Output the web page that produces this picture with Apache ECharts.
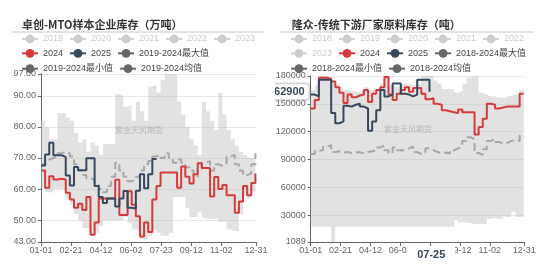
<!DOCTYPE html>
<html><head><meta charset="utf-8">
<script src="https://cdn.jsdelivr.net/npm/echarts@6/dist/echarts.min.js"></script>
<style>html,body{margin:0;padding:0;background:#fff;width:550px;height:273px;overflow:hidden}</style>
</head><body>
<div id="c2" style="position:absolute;left:262px;top:0;width:288px;height:273px;"></div>
<div id="c1" style="position:absolute;left:0;top:0;width:275px;height:273px;background:#fff;z-index:2"></div>
<script>
// ---------- data ----------
const monthDays = [31,29,31,30,31,30,31,31,30,31,30,31];
const categories = [];
monthDays.forEach((n,m)=>{for(let d=1;d<=n;d++){categories.push(String(m+1).padStart(2,'0')+'-'+String(d).padStart(2,'0'));}});
const labelIdx = [0,51,102,153,204,255,306,365]; // 01-01 02-21 04-12 06-02 07-23 09-12 11-02 12-31
const weekDates = []; for (let w=0; w<53; w++) weekDates.push(categories[w*7]);

// Left: 卓创-MTO (万吨), weekly
const L_2024 = [66,60.4,64.1,63.1,63.3,63.1,58.8,56.7,54,55.3,53.3,57.5,45.3,49.3,57,57,57,57,63,51.7,51.7,59.3,55,51.3,44.8,49.3,46.2,56.7,61,65.3,65.3,65.3,65.3,60.4,67.3,64,61.8,64.8,68.3,66.8,66.8,57.6,63.9,60,61.3,58,58,52.4,56,61,58,62,65];
const L_2025 = [67.6,71.1,74.9,70.9,70.9,70.3,64.4,61.2,67.1,66.1,66.1,69.9,69.9,61,57.5,55.5,57,57,54.4,57,59.4,54,53.8,59.5,64.8,60.3,64.8,69.7,69.7];
const L_max = [82,80,76,76,84.5,84.5,83,82,78,75,76,72,75,74,71,74.5,74.5,74.5,90.5,90,86.5,87,82,88,85,82,93,93.5,91,95,97,97,97,88,84,80,76,74,71,88,85,82,79,91,84,79,76,74,72,71,70,70,83];
const L_min = [60,59,59,60,60,60,57,55,52,50,47.5,47.5,45,46,48,50,50,50,50,50,51,49,47,47,44,44,45,47,46,45,45,46,57.5,57.5,57.5,54,51,51,52.5,51,50.5,50.5,50.5,49.5,49.5,47,47,46.5,52,58,57,59,60];
const L_avg = [68,69.5,70,70.5,71.5,72,71.5,70.5,68,66,64.5,63.5,63,61.5,60,59,61,64,68.5,66,64,62.5,63,64,66,68,69,70.5,71,70,71.5,70,68.5,69.5,68.5,67,66,64,66,68.5,69,66,68,67.5,68,70.5,71,68,66,64.5,65,68,71.5];

// Right: 隆众-传统下游 (吨), weekly
const R_2024 = [145000,154000,178000,178000,177000,174000,168000,162000,151000,160000,157000,159000,160000,165000,152000,161000,165000,168000,179000,160000,154000,161000,165000,168000,163000,167000,167000,161000,155000,156000,150000,149000,143000,142000,141000,140000,144000,141000,141000,141000,117000,125000,134000,150000,149000,145000,146000,147000,147000,147000,147000,161000,161000];
const R_2025 = [160000,158000,176000,176000,176000,140000,129000,131000,148000,147000,149000,150000,147000,145000,121000,131000,143000,165000,158000,160000,172000,172000,161000,160000,158000,160000,176000,176000,176000,163000];
const R_max = [165000,170000,180000,180000,179000,176000,172000,168000,165000,164000,163000,163000,165000,168000,165000,166000,168000,172000,180000,170000,168000,170000,172000,172000,170000,172000,172000,180000,180000,180000,175000,172000,166000,166000,166000,162000,164000,172000,178000,180000,180000,162000,160000,158000,158000,157000,156000,158000,159000,160000,160000,165000,163000];
const R_min = [17600,17600,17600,17600,17600,1089,17600,17600,17600,17600,17600,17600,17600,17600,17600,17600,17600,17600,17600,17600,17600,17600,17600,17600,17600,17600,17600,17600,17600,17600,17600,17600,17600,17600,17600,24800,21200,23000,21500,21500,20500,20500,20500,26500,26000,27000,26000,29500,28000,34000,28000,28000,27500];
const R_avg = [95900,99500,100000,104000,105500,98000,99000,97500,98000,97000,97500,98000,96500,98000,99000,100000,103000,105000,100000,97000,103000,100000,100000,102000,104000,98000,96000,97500,102000,100000,98000,97000,97500,96500,100000,102000,104000,110000,114000,112000,97000,95000,101000,110000,112000,109000,107000,108000,110000,111000,110000,116000,115000];
const R_pointerX = '07-25';
const R_pointerY = 162900;

// ---------- helpers ----------
const FF = "'Liberation Sans','Noto Sans CJK SC',sans-serif";
const TF = "'Noto Sans CJK SC',sans-serif";
const RED = '#d63b3b', BLUE = '#36495c', GRAY = '#666';
const pairs = vals => vals.map((v,i)=>[weekDates[i], v]);
const showIdx = (i)=> labelIdx.indexOf(i) >= 0;

function legendRow(names, left, top, selected, overrides) {
  return {
    left, top, padding: 0, itemWidth: 16, itemHeight: 11, itemGap: 6,
    inactiveColor: '#ccc',
    textStyle: {fontSize: 9, color: '#444', fontFamily: FF},
    selected,
    data: names.map(n => overrides[n] ? Object.assign({name:n}, overrides[n]) : {name:n})
  };
}
const grayItem = {itemStyle:{color:GRAY}, lineStyle:{color:GRAY, width:2, type:'solid', opacity:1}};

function buildSeries(prefix, years, hidden, d) {
  const s = [
    {name: prefix+'最小值', type:'line', data: pairs(d.min), stack:'band', step:'end', symbol:'circle', showSymbol:false, color:GRAY, lineStyle:{opacity:0}, z:1, silent:true},
    {name: prefix+'最大值', type:'line', data: pairs(d.max.map((v,i)=>v-d.min[i])), stack:'band', step:'end', symbol:'circle', showSymbol:false, color:GRAY, lineStyle:{opacity:0}, areaStyle:{color:'rgba(190,190,190,0.45)', opacity:1}, z:1, silent:true},
    {name: prefix+'均值', type:'line', data: pairs(d.avg), step:'end', symbol:'circle', showSymbol:false, color:GRAY, lineStyle:{color:'#a8a8a8', type:'dashed', width:2}, z:2}
  ];
  hidden.forEach(y => s.push({name:y, type:'line', data:[], symbol:'circle', showSymbol:false, color:'#ccc'}));
  s.push({name:'2024', type:'line', data: pairs(d.y24), step:'end', symbol:'circle', showSymbol:false, color:RED, lineStyle:{width:2}, z:3});
  s.push({name:'2025', type:'line', data: pairs(d.y25), step:'end', symbol:'circle', showSymbol:false, color:BLUE, lineStyle:{width:2}, z:4});
  return s;
}

function xAxisCfg(extra) {
  return Object.assign({
    type:'category', data: categories, boundaryGap:false,
    axisLine:{lineStyle:{color:'#666'}},
    axisTick:{interval:(i)=>showIdx(i), length:4, lineStyle:{color:'#666'}},
    axisLabel:{interval:(i)=>showIdx(i), fontSize:9, color:'#666', margin:4, fontFamily:FF},
    splitLine:{show:false}
  }, extra||{});
}

// ---------- left chart ----------
const hiddenL = ['2019','2020','2021','2022','2023'];
const selL = {}; hiddenL.forEach(y=>selL[y]=false);
const ovL = {'2019-2024最大值':grayItem,'2019-2024最小值':grayItem,'2019-2024均值':grayItem};
const c1 = echarts.init(document.getElementById('c1'), null, {renderer:'canvas'});
c1.setOption({
  animation:false,
  title:{text:'卓创-MTO样本企业库存（万吨）', left:17, top:14, textStyle:{fontSize:11, fontWeight:'bold', color:'#333', fontFamily:TF}},
  legend:[
    legendRow(hiddenL, 21, 34.5, selL, ovL),
    legendRow(['2024','2025','2019-2024最大值'], 21, 48.8, selL, ovL),
    legendRow(['2019-2024最小值','2019-2024均值'], 21, 64.2, selL, ovL)
  ],
  grid:{left:41, right:19, top:74, bottom:31},
  xAxis: xAxisCfg(),
  yAxis:{type:'value', min:43, max:97,
    axisLine:{show:true, lineStyle:{color:'#666'}}, axisTick:{show:true, length:3, lineStyle:{color:'#666'}},
    axisLabel:{formatter:v=>v.toFixed(2), fontSize:9, color:'#666', margin:5, fontFamily:FF},
    splitLine:{lineStyle:{color:'#e8e8e8'}}},
  graphic:[
    {type:'line', shape:{x1:12,y1:32,x2:265,y2:32}, style:{stroke:'#c8c8c8', lineWidth:1}, silent:true},
    {type:'text', x:139, y:130, style:{text:'紫金天风期货', fill:'rgba(150,150,150,0.55)', font:"8px 'Noto Sans CJK SC'", textAlign:'center', textVerticalAlign:'middle'}, silent:true, z:100}
  ],
  series: buildSeries('2019-2024', [], hiddenL, {min:L_min, max:L_max, avg:L_avg, y24:L_2024, y25:L_2025})
});

// ---------- right chart ----------
const hiddenR = ['2018','2019','2020','2021','2022','2023'];
const selR = {}; hiddenR.forEach(y=>selR[y]=false);
const ovR = {'2018-2024最大值':grayItem,'2018-2024最小值':grayItem,'2018-2024均值':grayItem};
const c2 = echarts.init(document.getElementById('c2'), null, {renderer:'canvas'});
c2.setOption({
  animation:false,
  title:{text:'隆众-传统下游厂家原料库存（吨）', left:24.7, top:14, textStyle:{fontSize:11, fontWeight:'bold', color:'#333', fontFamily:TF}},
  legend:[
    legendRow(['2018','2019','2020','2021','2022'], 28, 34.5, selR, ovR),
    legendRow(['2023','2024','2025','2018-2024最大值'], 28, 48.8, selR, ovR),
    legendRow(['2018-2024最小值','2018-2024均值'], 28, 64.2, selR, ovR)
  ],
  grid:{left:48.7, right:25.7, top:76, bottom:31},
  xAxis: xAxisCfg({axisPointer:{show:true, status:'show', value: categories.indexOf(R_pointerX), type:'line', lineStyle:{opacity:0}, triggerTooltip:false,
    label:{show:true, backgroundColor:'#fff', color:'#34495e', fontWeight:'bold', fontSize:11, fontFamily:FF, padding:[3,10], margin:4}}}),
  yAxis:{type:'value', min:1089, max:180000,
    axisLine:{show:true, lineStyle:{color:'#666'}}, axisTick:{show:true, length:3, lineStyle:{color:'#666'}},
    axisLabel:{formatter:v=>String(v), fontSize:9, color:'#666', margin:5, fontFamily:FF},
    splitLine:{lineStyle:{color:'#e8e8e8'}},
    axisPointer:{show:true, status:'show', value:R_pointerY, type:'line', lineStyle:{opacity:0}, triggerTooltip:false,
      label:{show:true, formatter:p=>String(Math.round(p.value)), backgroundColor:'#fff', color:'#34495e', fontWeight:'bold', fontSize:11, fontFamily:FF, padding:[2,4], borderColor:'#ddd', borderWidth:1, borderRadius:3, shadowBlur:3, shadowColor:'rgba(0,0,0,0.2)', margin:2}}},
  graphic:[
    {type:'line', shape:{x1:18,y1:32,x2:272,y2:32}, style:{stroke:'#c8c8c8', lineWidth:1}, silent:true},
    {type:'text', x:146, y:129, style:{text:'紫金天风期货', fill:'rgba(150,150,150,0.55)', font:"8px 'Noto Sans CJK SC'", textAlign:'center', textVerticalAlign:'middle'}, silent:true, z:100}
  ],
  series: buildSeries('2018-2024', [], hiddenR, {min:R_min, max:R_max, avg:R_avg, y24:R_2024, y25:R_2025})
});
</script>
</body></html>
